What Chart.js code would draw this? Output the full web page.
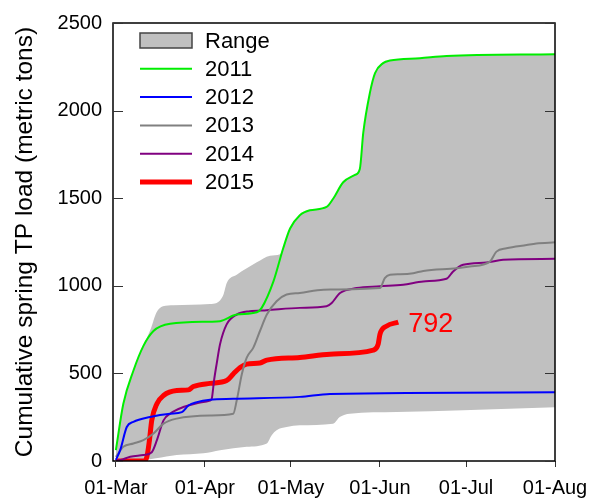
<!doctype html>
<html>
  <head>
    <title>Cumulative spring TP load</title>
    <script src="https://cdn.jsdelivr.net/npm/chart.js@4.4.1/dist/chart.umd.min.js"></script>
    <style>
        * { margin: 0; padding: 0; }
        body { background: #fff; }
    </style>
  </head>
  <body>
    <canvas id="myCanvas" width="589" height="500"></canvas>

    <script>
    // days counted from 01-Mar
    const tickDays = [0, 31, 61, 92, 122, 153];
    const tickLabels = ["01-Mar", "01-Apr", "01-May", "01-Jun", "01-Jul", "01-Aug"];

    const rangeHighDays = [0, 2.6, 6.1, 9.6, 12.3, 14.1, 16.4, 20, 32.8, 35.1, 37.5, 38.6, 42.1, 45.6, 49.1, 53.7, 57.2, 58.3, 60.7, 64.1, 67.6, 73.4, 75.7, 79.2, 83.3, 85.0, 86.2, 88.5, 90.3, 93.1, 95.5, 105.9, 115.2, 153];
    const rangeHigh = [62, 327, 515, 657, 760, 846, 883, 889, 896, 902, 950, 1015, 1063, 1100, 1134, 1172, 1180, 1214, 1327, 1403, 1431, 1450, 1497, 1591, 1633, 1667, 1874, 2101, 2214, 2271, 2286, 2299, 2312, 2322];
    const rangeLowDays = [0, 9.6, 14, 21.2, 30.5, 36.3, 45.6, 52.6, 54.3, 56.0, 59.5, 64.1, 75.7, 78, 81.5, 97.8, 121, 153];
    const rangeLow = [0, 6, 15, 34, 44, 62, 81, 100, 147, 176, 194, 204, 213, 251, 270, 279, 289, 307];

    const days2011 = [0, 2.6, 6.1, 9.6, 13.1, 18.9, 32.8, 36.3, 42.1, 49.1, 50.8, 54.9, 58.3, 60.7, 64.1, 67.6, 73.4, 75.7, 79.2, 83.3, 85.0, 86.2, 88.5, 90.3, 93.1, 95.5, 105.9, 115.2, 153];
    const load2011 = [62, 327, 515, 657, 742, 783, 795, 798, 836, 849, 874, 1025, 1214, 1327, 1403, 1431, 1450, 1497, 1591, 1633, 1667, 1874, 2101, 2214, 2271, 2286, 2299, 2312, 2322];

    const days2012 = [0, 1.5, 3.8, 6.1, 11.9, 18.9, 23, 25.3, 28.2, 32.8, 40.9, 64.1, 74.6, 153];
    const load2012 = [6, 62, 194, 223, 251, 270, 279, 317, 336, 350, 355, 366, 383, 392];

    const days2013 = [0, 2.6, 6.1, 9.6, 13.1, 16.6, 21.2, 32.8, 40.9, 42.1, 43.9, 45.6, 47.9, 50.2, 52.6, 56.0, 59.5, 64.1, 72.3, 92, 93.7, 95.5, 99, 103.6, 107.1, 118.7, 123.3, 130.3, 132.6, 136.1, 143.1, 146.5, 153];
    const load2013 = [24, 81, 100, 119, 157, 213, 242, 260, 270, 345, 497, 590, 647, 742, 836, 912, 950, 959, 978, 987, 1044, 1063, 1066, 1072, 1085, 1100, 1110, 1138, 1195, 1214, 1233, 1242, 1248];

    const days2014 = [0, 1.7, 5, 9.6, 12.5, 14.3, 16.6, 18.9, 23.5, 28.2, 32.8, 33.4, 34.2, 35.1, 36.3, 38.6, 42.1, 46.7, 52.6, 64.1, 73.4, 75.2, 78.1, 83.9, 92, 100.1, 107.1, 115.2, 117.5, 121, 129.1, 134.9, 153];
    const load2014 = [0, 6, 24, 34, 50, 119, 232, 270, 308, 330, 345, 355, 459, 553, 667, 780, 836, 855, 861, 874, 883, 902, 959, 987, 997, 1006, 1025, 1040, 1082, 1120, 1133, 1148, 1154];

    const days2015 = [0, 9.6, 10.8, 11.7, 12.5, 14.3, 16.6, 21.2, 25.3, 27, 32.8, 38.6, 40.9, 43.3, 45.6, 50.2, 52.6, 64.1, 74.6, 89.7, 91.4, 92, 94.3, 98.4];
    const load2015 = [0, 0, 24, 119, 232, 327, 374, 402, 406, 425, 443, 459, 497, 534, 553, 559, 576, 591, 610, 633, 667, 723, 770, 792];

    const yTicks = [0, 500, 1000, 1500, 2000, 2500];

    function pts(xs, ys) {
        return xs.map((x, i) => ({x: x, y: ys[i]}));
    }

    function line(label, xs, ys, color, width) {
        return {
            label: label,
            data: pts(xs, ys),
            borderColor: color,
            backgroundColor: color,
            borderWidth: width,
            pointRadius: 0,
            fill: false,
            cubicInterpolationMode: 'monotone'
        };
    }

    Chart.defaults.font.family = "'Liberation Sans', Arial, sans-serif";
    Chart.defaults.color = '#000';

    // frame, inward y ticks, legend and end label
    const decorations = {
        id: 'decorations',
        afterDraw(chart) {
            const ctx = chart.ctx;
            const a = chart.chartArea;
            const y = chart.scales.y;
            ctx.save();
            ctx.strokeStyle = '#000';
            ctx.lineWidth = 1.5;
            ctx.strokeRect(a.left, a.top, a.right - a.left, a.bottom - a.top);
            ctx.strokeStyle = '#333';
            ctx.lineWidth = 1;
            yTicks.forEach(v => {
                const py = Math.round(y.getPixelForValue(v)) + 0.5;
                ctx.beginPath();
                ctx.moveTo(a.left, py); ctx.lineTo(a.left + 10, py);
                ctx.moveTo(a.right, py); ctx.lineTo(a.right - 10, py);
                ctx.stroke();
            });

            // legend
            const lx = a.left + 27, lw = 52, tx = a.left + 92;
            let ly = a.top + 17.5;
            ctx.font = "22px 'Liberation Sans', Arial";
            ctx.textBaseline = 'middle';
            ctx.fillStyle = '#c0c0c0';
            ctx.fillRect(lx, ly - 7.5, lw, 15);
            ctx.strokeStyle = '#444';
            ctx.lineWidth = 1.5;
            ctx.strokeRect(lx, ly - 7.5, lw, 15);
            ctx.fillStyle = '#000';
            ctx.fillText('Range', tx, ly + 1);
            chart.data.datasets.slice(2).forEach(ds => {
                ly += 28.3;
                ctx.strokeStyle = ds.borderColor;
                ctx.lineWidth = ds.borderWidth;
                ctx.beginPath();
                ctx.moveTo(lx, ly); ctx.lineTo(lx + lw, ly);
                ctx.stroke();
                ctx.fillStyle = '#000';
                ctx.fillText(ds.label, tx, ly + 1);
            });

            // end label of 2015
            const meta = chart.getDatasetMeta(chart.data.datasets.length - 1);
            const last = meta.data[meta.data.length - 1];
            ctx.fillStyle = '#ff0000';
            ctx.font = "27px 'Liberation Sans', Arial";
            ctx.fillText(String(load2015[load2015.length - 1]), last.x + 10, last.y + 2);
            ctx.restore();
        }
    };

    const ctx1 = document.getElementById("myCanvas").getContext('2d');
    const myChart = new Chart(ctx1, {
        type: 'line',
        data: {
            datasets: [
                {
                    label: 'Range',
                    data: pts(rangeHighDays, rangeHigh),
                    borderWidth: 0,
                    borderColor: 'rgba(0,0,0,0)',
                    backgroundColor: '#c0c0c0',
                    pointRadius: 0,
                    fill: '+1',
                    cubicInterpolationMode: 'monotone',
                    order: 10
                },
                {
                    label: 'RangeLow',
                    data: pts(rangeLowDays, rangeLow),
                    borderWidth: 0,
                    borderColor: 'rgba(0,0,0,0)',
                    pointRadius: 0,
                    fill: false,
                    cubicInterpolationMode: 'monotone',
                    order: 11
                },
                line('2011', days2011, load2011, '#00ee00', 2),
                line('2012', days2012, load2012, '#0000ff', 2),
                line('2013', days2013, load2013, '#808080', 2),
                line('2014', days2014, load2014, '#800080', 2),
                line('2015', days2015, load2015, '#ff0000', 5)
            ]
        },
        options: {
            responsive: false,
            animation: false,
            layout: { padding: { top: 19, right: 34, left: 0, bottom: 0 } },
            plugins: {
                legend: { display: false },
                tooltip: { enabled: false },
                filler: { drawTime: 'beforeDatasetsDraw' }
            },
            scales: {
                x: {
                    type: 'linear',
                    min: -1,
                    max: 153,
                    afterBuildTicks: s => { s.ticks = tickDays.map(v => ({value: v})); },
                    afterFit: s => { s.height = 39; s.paddingLeft = 0; s.paddingRight = 0; },
                    ticks: {
                        font: { size: 20 },
                        padding: 9,
                        maxRotation: 0,
                        autoSkip: false,
                        callback: v => tickLabels[tickDays.indexOf(v)]
                    },
                    grid: { drawOnChartArea: false, drawTicks: true, tickLength: 6, color: '#333' },
                    border: { display: false }
                },
                y: {
                    min: 0,
                    max: 2500,
                    afterBuildTicks: s => { s.ticks = yTicks.map(v => ({value: v})); },
                    afterFit: s => { s.width = 113; },
                    ticks: { font: { size: 20 }, padding: 11, callback: v => String(v) },
                    grid: { display: false, drawTicks: false },
                    border: { display: false },
                    title: {
                        display: true,
                        text: 'Cumulative spring TP load (metric tons)',
                        font: { size: 24.5 },
                        padding: { top: 11, bottom: 0 }
                    }
                }
            }
        },
        plugins: [decorations]
    });
    </script>
  </body>
</html>
